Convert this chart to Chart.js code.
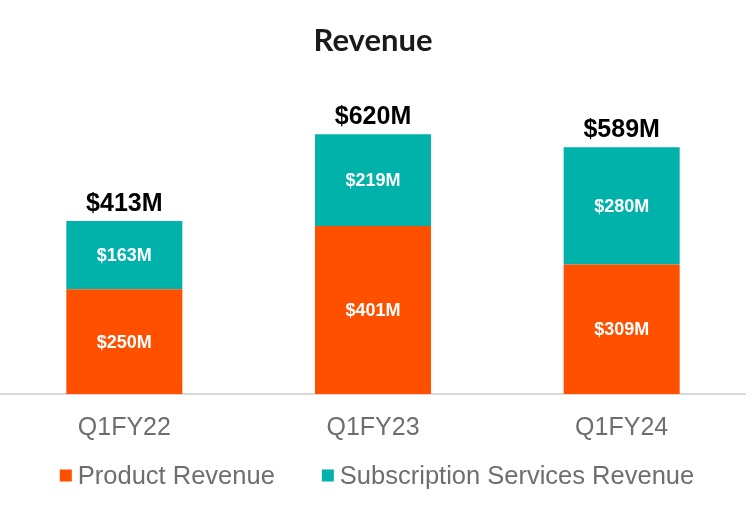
<!DOCTYPE html>
<html>
<head>
<meta charset="utf-8">
<script src="https://cdn.jsdelivr.net/npm/chart.js@4.4.1/dist/chart.umd.min.js"></script>
<style>
  html, body { margin: 0; padding: 0; background: #ffffff; }
  #wrap { width: 746px; height: 524px; }
</style>
</head>
<body>
<div id="wrap"><canvas id="c" width="746" height="524"></canvas></div>
<script>
const categories = ['Q1FY22', 'Q1FY23', 'Q1FY24'];
const productRevenue = [250, 401, 309];
const subscriptionRevenue = [163, 219, 280];
const seriesNames = ['Product Revenue', 'Subscription Services Revenue'];
const seriesColors = ['#FF5000', '#00B2A9'];
const yMax = 790;

const fmt = v => '$' + v + 'M';

const labelPlugin = {
  id: 'barLabels',
  afterDatasetsDraw(chart) {
    const ctx = chart.ctx;
    ctx.save();
    ctx.textAlign = 'center';
    ctx.textBaseline = 'middle';
    ctx.font = 'bold 18px "Liberation Sans", Arial, sans-serif';
    ctx.fillStyle = '#ffffff';
    chart.data.datasets.forEach((ds, di) => {
      const meta = chart.getDatasetMeta(di);
      meta.data.forEach((el, i) => {
        const yc = (el.y + el.base) / 2;
        ctx.fillText(fmt(ds.data[i]), el.x, yc + 1);
      });
    });
    ctx.font = 'bold 25px "Liberation Sans", Arial, sans-serif';
    ctx.fillStyle = '#000000';
    const topMeta = chart.getDatasetMeta(chart.data.datasets.length - 1);
    topMeta.data.forEach((el, i) => {
      const total = chart.data.datasets.reduce((s, ds) => s + ds.data[i], 0);
      ctx.fillText(fmt(total), el.x, el.y - 17);
    });
    ctx.restore();
  }
};

// Legend drawn from the dataset definitions
const legendPlugin = {
  id: 'customLegend',
  afterDraw(chart) {
    const ctx = chart.ctx;
    ctx.save();
    ctx.font = '25.5px "Liberation Sans", Arial, sans-serif';
    ctx.textBaseline = 'middle';
    ctx.textAlign = 'left';
    const box = 12, gapText = 6, gapItem = 47, cy = 475.5;
    const items = chart.data.datasets.map(ds => ({
      text: ds.label, color: ds.backgroundColor, w: ctx.measureText(ds.label).width
    }));
    const total = items.reduce((s, it) => s + box + gapText + it.w, 0) + gapItem * (items.length - 1);
    let x = 377 - total / 2;
    items.forEach(it => {
      ctx.fillStyle = it.color;
      ctx.fillRect(x, cy - box / 2, box, box);
      x += box + gapText;
      ctx.fillStyle = '#6e6e6e';
      ctx.fillText(it.text, x, cy + 1);
      x += it.w + gapItem;
    });
    ctx.restore();
  }
};

new Chart(document.getElementById('c'), {
  type: 'bar',
  data: {
    labels: categories,
    datasets: [
      {
        label: seriesNames[0],
        data: productRevenue,
        backgroundColor: seriesColors[0],
        borderWidth: 0,
        barPercentage: 0.4665,
        categoryPercentage: 1.0
      },
      {
        label: seriesNames[1],
        data: subscriptionRevenue,
        backgroundColor: seriesColors[1],
        borderWidth: 0,
        barPercentage: 0.4665,
        categoryPercentage: 1.0
      }
    ]
  },
  options: {
    responsive: false,
    animation: false,
    devicePixelRatio: 1,
    layout: { padding: { left: 0, right: 0, top: 0, bottom: 62 } },
    scales: {
      x: {
        stacked: true,
        grid: { display: false, drawTicks: false },
        border: { display: true, color: '#d9d9d9', width: 2 },
        ticks: {
          color: '#6e6e6e',
          padding: 19,
          font: { family: '"Liberation Sans", Arial, sans-serif', size: 25, lineHeight: 1.2 }
        }
      },
      y: {
        stacked: true,
        display: false,
        min: 0,
        max: yMax
      }
    },
    plugins: {
      title: {
        display: true,
        text: 'Revenue',
        color: '#1a1a1a',
        font: { family: 'Lato, "Open Sans", sans-serif', size: 31, weight: 'bold', lineHeight: 1.2 },
        padding: { top: 22.4, bottom: 3.4 }
      },
      legend: { display: false },
      tooltip: { enabled: false }
    }
  },
  plugins: [labelPlugin, legendPlugin]
});
</script>
</body>
</html>
